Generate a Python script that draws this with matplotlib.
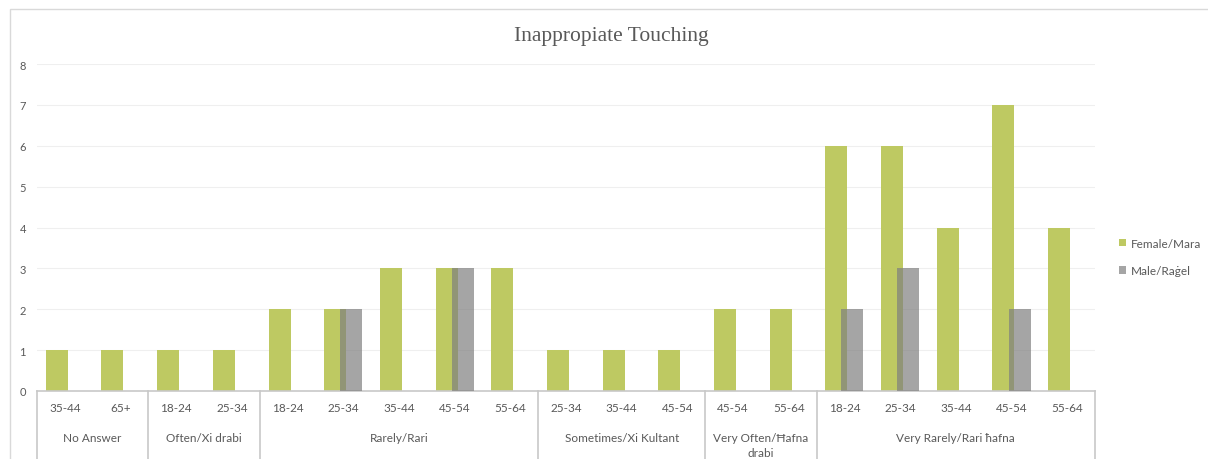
import matplotlib
matplotlib.use("Agg")
import matplotlib.pyplot as plt
from matplotlib.patches import Rectangle
from matplotlib.lines import Line2D
import numpy as np

plt.rcParams['font.family'] = ['Lato', 'DejaVu Sans']

groups = ["No Answer", "Often/Xi drabi", "Rarely/Rari", "Sometimes/Xi Kultant",
          "Very Often/Ħafna\ndrabi", "Very Rarely/Rari ħafna"]
group_ages = [["35-44", "65+"],
              ["18-24", "25-34"],
              ["18-24", "25-34", "35-44", "45-54", "55-64"],
              ["25-34", "35-44", "45-54"],
              ["45-54", "55-64"],
              ["18-24", "25-34", "35-44", "45-54", "55-64"]]
female = [1, 1, 1, 1, 2, 2, 3, 3, 3, 1, 1, 1, 2, 2, 6, 6, 4, 7, 4]
male = [0, 0, 0, 0, 0, 2, 0, 3, 0, 0, 0, 0, 0, 0, 2, 3, 0, 2, 0]
series_names = ["Female/Mara", "Male/Raġel"]

fem_color = "#bec962"
male_color = "#7f7f7f"
text_color = "#595959"

fig = plt.figure(figsize=(12.08, 4.6), dpi=100)
ax = fig.add_axes([37/1208, 1-392/460, (1095-37)/1208, (392-65)/460])

ages = [a for g in group_ages for a in g]
n = len(ages)
x = np.arange(n)
w = 0.395
off = 0.145
ax.bar(x - off, female, width=w, color=fem_color, zorder=2, label=series_names[0])
ax.bar(x + off, male, width=w, color=male_color, alpha=0.7, zorder=3, label=series_names[1])

ax.set_xlim(-0.5, n - 0.5)
ax.set_ylim(0, 8)
ax.set_yticks(range(0, 9))
ax.yaxis.grid(True, color="#efefef", linewidth=0.8, zorder=0)
ax.set_axisbelow(True)
for s in ["top", "right", "left"]:
    ax.spines[s].set_visible(False)
ax.spines["bottom"].set_color("#c8c8c8")
ax.spines["bottom"].set_linewidth(1.2)
ax.tick_params(axis="y", length=0, labelsize=8, labelcolor=text_color, pad=8)
ax.tick_params(axis="x", length=0)
ax.set_xticks(x)
ax.set_xticklabels(ages, fontsize=8.5, color=text_color)
ax.tick_params(axis="x", pad=8)

# group labels and separators
trans = ax.get_xaxis_transform()
bottom_frac = -(460 - 392) / (392 - 65)
start = 0
bounds = [-0.5]
for g, ag in zip(groups, group_ages):
    end = start + len(ag)
    center = (start + end - 1) / 2
    ax.text(center, -0.125, g, transform=trans, ha="center", va="top",
            fontsize=8.5, color=text_color, linespacing=1.5)
    bounds.append(end - 0.5)
    start = end
for b in bounds:
    ax.add_line(Line2D([b, b], [0, bottom_frac], transform=trans, color="#c8c8c8",
                       linewidth=1.2, clip_on=False))

fig.text(611/1208, 1-36/460, "Inappropiate Touching", ha="center", va="center",
         fontsize=15.5, color=text_color, family=["Liberation Serif", "DejaVu Serif"])

leg = fig.legend(loc="center left", bbox_to_anchor=(1108/1208, 1-258/460), frameon=False,
                 fontsize=8.5, handlelength=0.6, handleheight=0.6, handletextpad=0.4,
                 labelspacing=1.4)
for t in leg.get_texts():
    t.set_color(text_color)

fig.add_artist(Rectangle((10/1208, -0.1), 1.2, 1 - 10/460 + 0.1, transform=fig.transFigure,
                         fill=False, edgecolor="#d9d9d9", linewidth=1))

fig.savefig("out.png", dpi=100)
